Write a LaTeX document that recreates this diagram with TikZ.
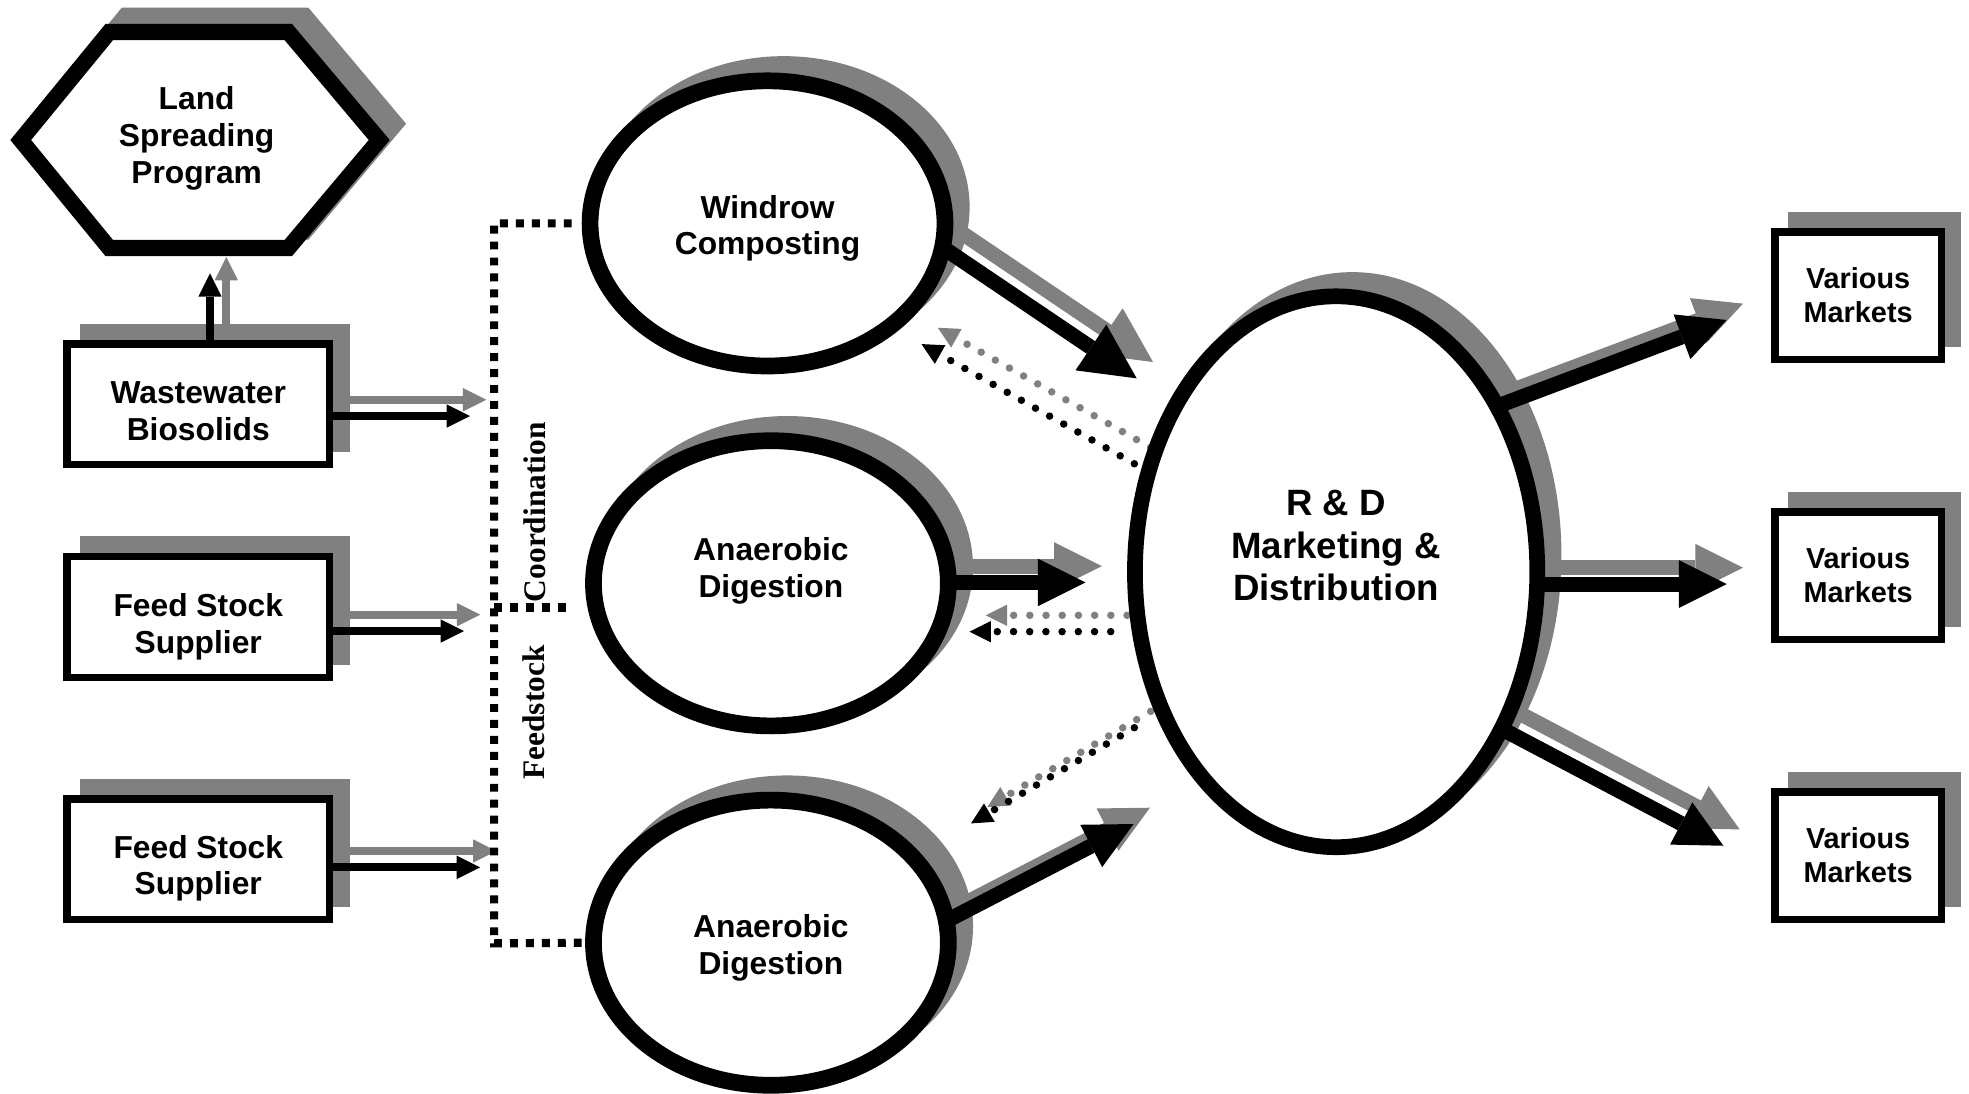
\documentclass[tikz,border=0pt]{standalone}
\usepackage{fontspec}
\setmainfont{Liberation Sans}
\newfontface\serifbold{Liberation Serif Bold}
\usetikzlibrary{shapes.geometric,arrows.meta}
\definecolor{sg}{RGB}{128,128,128}
\pgfdeclarelayer{shadow}
\pgfsetlayers{shadow,main}
\newcommand{\ntext}[2]{\raisebox{#1}[0pt][0pt]{\begin{tabular}{@{}c@{}}#2\end{tabular}}}
\newcommand{\sarr}[3]{%
  \begin{pgfonlayer}{shadow}\draw[#1,sg] ([sh]#2) -- ([sh]#3);\end{pgfonlayer}%
  \draw[#1] (#2) -- (#3);}
\tikzset{
  sh/.style={shift={(0.13,0.13)}},
  box/.style={draw, line width=0.06cm, fill=white, minimum width=2.09cm, minimum height=0.962cm,
    inner sep=0pt, font=\bfseries\fontsize{7.2}{8.3}\selectfont},
  mkt/.style={box, minimum width=1.325cm, minimum height=1.016cm, font=\bfseries\fontsize{6.54}{7.54}\selectfont},
  ell/.style={ellipse, draw, line width=0.133cm, fill=white, minimum width=2.826cm, minimum height=2.271cm,
    inner sep=0pt, font=\bfseries\fontsize{7.2}{8.3}\selectfont},
  big/.style={line width=0.12cm, shorten <=-0.06cm, -{Triangle[width=0.38cm,length=0.38cm,line width=0pt]}},
  bigger/.style={big, -{Triangle[width=0.44cm,length=0.44cm,line width=0pt]}},
  small/.style={line width=0.062cm, shorten <=-0.03cm, -{Triangle[width=0.186cm,length=0.186cm,line width=0pt]}},
  dots/.style={line width=0.06cm, line cap=round, dash pattern=on 0pt off 0.129cm,
    -{Triangle[width=0.17cm,length=0.17cm,line width=0pt]}},
  bracket/.style={line width=0.065cm, dash pattern=on 0.063cm off 0.064cm},
  vlabel/.style={rotate=90, anchor=base, inner sep=0pt, font=\serifbold\fontsize{7.11}{8}\selectfont},
}
\begin{document}
\begin{tikzpicture}
\useasboundingbox (0,0) rectangle (15.68,-8.71);

% hexagon
\coordinate (hL) at (0.165,-1.115);
\coordinate (hTL) at (0.87,-0.255);
\coordinate (hTR) at (2.296,-0.255);
\coordinate (hR) at (3.02,-1.115);
\coordinate (hBR) at (2.296,-1.975);
\coordinate (hBL) at (0.87,-1.975);
\draw[line width=0.128cm, miter limit=10, fill=white] (hL) -- (hTL) -- (hTR) -- (hR) -- (hBR) -- (hBL) -- cycle;
\node[inner sep=0pt, font=\bfseries\fontsize{7.2}{8.3}\selectfont] (land) at (1.566,-1.115)
  {\ntext{-0.055cm}{Land\\Spreading\\Program}};

% boxes
\node[box] (ww)  at (1.579,-3.219) {\ntext{-0.145cm}{Wastewater\\Biosolids}};
\node[box] (fs1) at (1.579,-4.913) {\ntext{-0.145cm}{Feed Stock\\Supplier}};
\node[box] (fs2) at (1.579,-6.842) {\ntext{-0.140cm}{Feed Stock\\Supplier}};
\node[mkt] (m1) at (14.797,-2.356) {\ntext{-0.085cm}{Various\\Markets}};
\node[mkt] (m2) at (14.797,-4.586) {\ntext{-0.085cm}{Various\\Markets}};
\node[mkt] (m3) at (14.797,-6.816) {\ntext{-0.085cm}{Various\\Markets}};

% ellipses
\node[ell] (win) at (6.112,-1.779) {\ntext{-0.106cm}{Windrow\\Composting}};
\node[ell] (ad1) at (6.139,-4.645) {\ntext{0.033cm}{Anaerobic\\Digestion}};
\node[ell] (ad2) at (6.139,-7.507) {\ntext{-0.108cm}{Anaerobic\\Digestion}};
\node[ell, minimum width=3.204cm, minimum height=4.387cm, line width=0.125cm,
  font=\bfseries\fontsize{8.3}{9.67}\selectfont] (rd) at (10.64,-4.553)
  {\ntext{0.107cm}{R \& D\\Marketing \&\\Distribution}};

% vertical labels
\node[vlabel] (coord) at (4.34,-4.079) {Coordination};
\node[vlabel] (feed) at (4.335,-5.674) {Feedstock};

% shadows of shapes
\begin{pgfonlayer}{shadow}
  \filldraw[sg, line width=0.128cm, miter limit=10] ([sh]hL) -- ([sh]hTL) -- ([sh]hTR) -- ([sh]hR) -- ([sh]hBR) -- ([sh]hBL) -- cycle;
  \foreach \n in {ww,fs1,fs2,m1,m2,m3}
    \fill[sg] ([sh]\n.south west) rectangle ([sh]\n.north east);
  \foreach \n in {win,ad1,ad2}
    \fill[sg] ([sh]\n.center) ellipse [x radius=1.4795cm, y radius=1.202cm];
  \fill[sg] ([sh]rd.center) ellipse [x radius=1.6645cm, y radius=2.256cm];
\end{pgfonlayer}

% coordinates for arrow ends
\coordinate (upTip) at (1.672,-2.177);
\coordinate (upS) at (upTip |- ww.north);
\coordinate (wwTip) at (3.743,-3.313);
\coordinate (wwS) at (ww.east |- wwTip);
\coordinate (f1Tip) at (3.695,-5.025);
\coordinate (f1S) at (fs1.east |- f1Tip);
\coordinate (f2Tip) at (3.823,-6.907);
\coordinate (f2S) at (fs2.east |- f2Tip);

\coordinate (t1) at (9.052,-3.013);
\coordinate (t2) at (8.645,-4.638);
\coordinate (t2S) at (ad1.east |- t2);
\coordinate (t3) at (9.027,-6.562);
\coordinate (t4) at (13.75,-2.548);
\coordinate (t5) at (13.75,-4.651);
\coordinate (t5S) at (rd.east |- t5);
\coordinate (t6) at (13.724,-6.735);

\coordinate (d1S) at (9.033,-3.693);
\coordinate (d1T) at (7.338,-2.74);
\coordinate (d2S) at (8.845,-5.03);
\coordinate (d2T) at (7.72,-5.03);
\coordinate (d3S) at (9.033,-5.795);
\coordinate (d3T) at (7.732,-6.557);

% small arrows
\sarr{small}{upS}{upTip}
\sarr{small}{wwS}{wwTip}
\sarr{small}{f1S}{f1Tip}
\sarr{small}{f2S}{f2Tip}

% big arrows
\sarr{bigger}{win.-9.5}{t1}
\sarr{big}{t2S}{t2}
\sarr{big}{ad2.8.7}{t3}
\sarr{big}{rd.45.5}{t4}
\sarr{big}{t5S}{t5}
\sarr{big}{rd.-43}{t6}

% dotted feedback arrows
\sarr{dots}{d1S}{d1T}
\sarr{dots}{d2S}{d2T}
\sarr{dots}{d3S}{d3T}

% coordination bracket
\coordinate (brT) at (3.935,-1.779);
\coordinate (brB) at (3.935,-7.512);
\coordinate (brM) at (3.935,-4.837);
\draw[bracket] ([xshift=-0.08cm]win.west) -- (brT) -- (brB) -- (ad2.west);
\draw[bracket] (brM) -- ([xshift=-0.1cm]brM -| ad1.west);
\end{tikzpicture}
\end{document}
